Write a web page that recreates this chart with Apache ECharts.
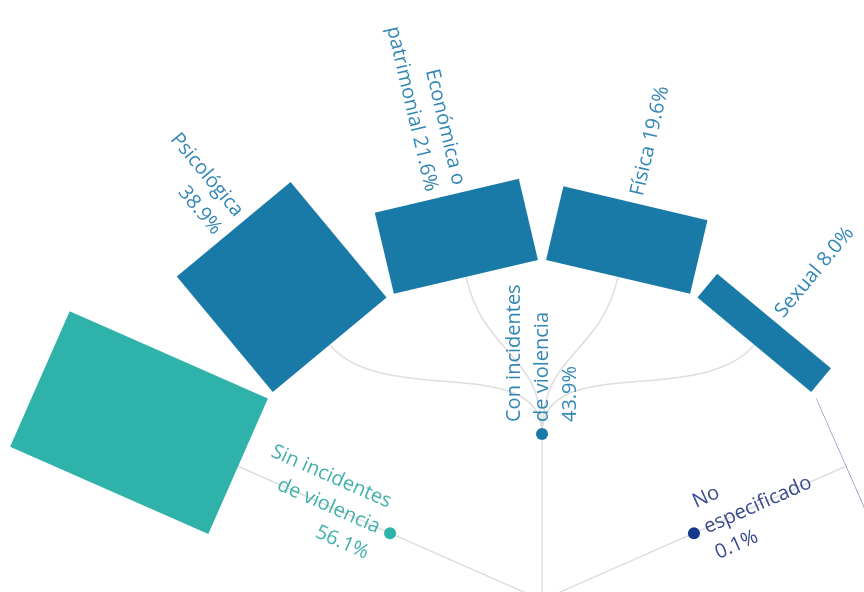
<!DOCTYPE html>
<html><head><meta charset="utf-8">
<script src="https://cdn.jsdelivr.net/npm/echarts@6/dist/echarts.min.js"></script>
<style>html,body{margin:0;padding:0;background:#fff}#chart{width:864px;height:592px}</style>
</head><body><div id="chart"></div>
<script>
// ---- data ----
const level1Names = ['Sin incidentes\nde violencia', 'Con incidentes\nde violencia', 'No\nespecificado'];
const level1Values = [56.1, 43.9, 0.1];
const level2Parents = [0, 1, 1, 1, 1, 2];
const level2Names = ['', 'Psicológica', 'Económica o\npatrimonial', 'Física', 'Sexual', ''];
const level2Values = [56.1, 38.9, 21.6, 19.6, 8.0, 0.1];
const level2ValueOnNewLine = [false, true, false, false, false, false];
const level1Colors = ['#2fb2aa', '#1a7aa7', '#13398a'];
const level1LabelColors = ['#40b1a9', '#3387b5', '#3a4a90'];

// ---- layout constants ----
const LEAF_STEP = 26.5;        // degrees between leaf slots
const VALUE_PER_LEVEL = 43;    // percent represented by one depth level of box length
const BOX_HALF = 74;           // half width of boxes (px)
const FONT = '20px "Open Sans"';
const LINE_H = 28;

// ---- build tree layout ----
const nodes = [{ depth: 0, angle: 0, parent: -1 }];
level1Names.forEach((nm, i) => nodes.push({ depth: 1, parent: 0, group: i, name: nm, value: level1Values[i], children: [] }));
level2Names.forEach((nm, i) => {
  const pIdx = 1 + level2Parents[i];
  const idx = nodes.length;
  nodes.push({ depth: 2, parent: pIdx, group: level2Parents[i], name: nm, value: level2Values[i], newLine: level2ValueOnNewLine[i] });
  nodes[pIdx].children.push(idx);
});
const leaves = [];
for (let i = 1; i <= level1Names.length; i++) {
  if (nodes[i].children.length) nodes[i].children.forEach(c => leaves.push(c));
  else leaves.push(i);
}
leaves.forEach((idx, k) => { nodes[idx].angle = (k - (leaves.length - 1) / 2) * LEAF_STEP; });
for (let i = 1; i <= level1Names.length; i++) {
  const ch = nodes[i].children;
  if (ch.length) nodes[i].angle = (nodes[ch[0]].angle + nodes[ch[ch.length - 1]].angle) / 2;
}

function labelText(n) {
  if (!n.name) return '';
  const v = n.value.toFixed(1) + '%';
  if (n.depth === 1) return n.name + '\n' + v;
  return n.name + (n.newLine ? '\n' : ' ') + v;
}

function renderItem(params, api) {
  const n = nodes[params.dataIndex];
  if (n.depth === 0) return { type: 'group', children: [] };
  const c = api.coord([0, n.angle]);
  const p = api.coord([n.depth, n.angle]);
  const dx = p[0] - c[0], dy = p[1] - c[1];
  const len = Math.hypot(dx, dy);
  const u = [dx / len, dy / len];
  const t = [-u[1], u[0]];
  const parent = nodes[n.parent];
  const pa = parent.depth === 0 ? n.angle : parent.angle;
  const s = api.coord([parent.depth, pa]);
  const mid = (parent.depth + n.depth) / 2;
  const cp1 = api.coord([mid, pa]);
  const cp2 = api.coord([mid, n.angle]);
  const color = level1Colors[n.group];
  const children = [];
  children.push({
    type: 'bezierCurve', silent: true, z2: 1,
    shape: { x1: s[0], y1: s[1], x2: p[0], y2: p[1], cpx1: cp1[0], cpy1: cp1[1], cpx2: cp2[0], cpy2: cp2[1] },
    style: { stroke: '#dedede', lineWidth: 1.5, fill: null }
  });
  let anchor;
  if (n.depth === 1) {
    children.push({ type: 'circle', z2: 5, shape: { cx: p[0], cy: p[1], r: 6 }, style: { fill: color } });
    anchor = [p[0] + u[0] * 12, p[1] + u[1] * 12];
  } else {
    const o = api.coord([n.depth + n.value / VALUE_PER_LEVEL, n.angle]);
    const h = Math.hypot(o[0] - p[0], o[1] - p[1]);
    const pts = [
      [p[0] + t[0] * BOX_HALF, p[1] + t[1] * BOX_HALF],
      [p[0] - t[0] * BOX_HALF, p[1] - t[1] * BOX_HALF],
      [p[0] - t[0] * BOX_HALF + u[0] * h, p[1] - t[1] * BOX_HALF + u[1] * h],
      [p[0] + t[0] * BOX_HALF + u[0] * h, p[1] + t[1] * BOX_HALF + u[1] * h]
    ];
    children.push({ type: 'polygon', z2: 5, shape: { points: pts }, style: { fill: color } });
    anchor = [o[0] + u[0] * 8, o[1] + u[1] * 8];
  }
  const txt = labelText(n);
  if (txt) {
    const left = n.angle < -0.01;
    const rot = left ? Math.atan2(u[1], -u[0]) : Math.atan2(-u[1], u[0]);
    children.push({
      type: 'text', z2: 10, silent: true,
      x: anchor[0], y: anchor[1], rotation: rot,
      style: {
        text: txt, fill: level1LabelColors[n.depth === 1 ? n.group : 1],
        font: FONT, lineHeight: LINE_H,
        align: left ? 'right' : 'left', verticalAlign: 'middle'
      }
    });
  }
  return { type: 'group', children };
}

const chart = echarts.init(document.getElementById('chart'), null, { renderer: 'canvas' });
chart.setOption({
  backgroundColor: '#ffffff',
  animation: false,
  polar: { center: [542, 600], radius: 664 },
  radiusAxis: { type: 'value', min: 0, max: 4, show: false, axisLine: { show: false }, axisTick: { show: false }, axisLabel: { show: false }, splitLine: { show: false } },
  angleAxis: { type: 'value', min: -180, max: 180, startAngle: 270, clockwise: true, show: false, axisLine: { show: false }, axisTick: { show: false }, axisLabel: { show: false }, splitLine: { show: false } },
  series: [{
    type: 'custom', coordinateSystem: 'polar', silent: true,
    encode: { radius: 0, angle: 1 },
    data: nodes.map(n => [n.depth, n.angle]),
    renderItem
  }]
});
</script>
</body></html>
